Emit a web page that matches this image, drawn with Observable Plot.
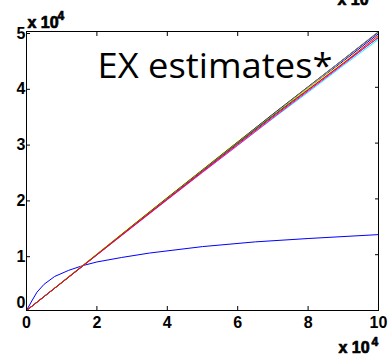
<!DOCTYPE html>
<html><head><meta charset="utf-8">
<script src="https://cdn.jsdelivr.net/npm/d3@7"></script>
<script src="https://cdn.jsdelivr.net/npm/@observablehq/plot@0.6"></script>
<style>body{margin:0;background:#fff}</style>
</head><body><div id="chart"></div>
<script>
const xs = [0, 10000, 20000, 30000, 40000, 50000, 60000, 70000, 80000, 90000, 100000];
const seriesNames = ["blue", "green", "cyan", "magenta", "yellow", "black", "gray", "red"];
const seriesColors = ["#0000ff", "#00a000", "#00c8c8", "#c800c8", "#c8c800", "#000000", "#808080", "#ff0000"];
const blueS   = [0, 5000, 10000, 15050, 20100, 25050, 30000, 34900, 39800, 44700, 49600];
const greenS  = [0, 5050, 10100, 15150, 20200, 25100, 30000, 34900, 39600, 44300, 48900];
const cyanS   = [0, 5000, 9950, 14950, 19900, 24800, 29600, 34400, 39100, 43900, 48600];
const magS    = [0, 4980, 9950, 14900, 19850, 24750, 29600, 34500, 39300, 44100, 49000];
const yelS    = [0, 5050, 10150, 15250, 20300, 25300, 30300, 35100, 39800, 44500, 49200];
const blackS  = [0, 5000, 10050, 15150, 20200, 25200, 30200, 35200, 40100, 45000, 49900];
const grayS   = [0, 5000, 10050, 15100, 20150, 25150, 30150, 35100, 40050, 45000, 50000];
const redS    = [0, 5000, 10000, 15000, 19950, 24900, 29800, 34700, 39500, 44300, 49300];
const seriesValues = [blueS, greenS, cyanS, magS, yelS, blackS, grayS, redS];

const curveX = [0, 1500, 3000, 5000, 8000, 12000, 16000, 20000, 27000, 35000, 50000, 65000, 80000, 100000];
const curveY = [0, 1700, 3300, 4700, 6100, 7200, 8050, 8700, 9500, 10300, 11450, 12300, 12900, 13600];

const xTicks = [0, 20000, 40000, 60000, 80000, 100000];
const yTicks = [0, 10000, 20000, 30000, 40000, 50000];
const titleText = "EX estimates*";

const lineData = [];
seriesNames.forEach((n, i) => xs.forEach((x, j) => lineData.push({series: n, x, y: seriesValues[i][j]})));
const curveData = curveX.map((x, i) => ({x, y: curveY[i]}));

const font = "Liberation Sans, Arial, sans-serif";
const fmt = d => String(d / 10000);
const lab = {fontWeight: "bold", fill: "#000", stroke: "#000", strokeWidth: 0.7, textAnchor: "start", lineAnchor: "bottom"};

const chart = Plot.plot({
  width: 389, height: 354,
  marginLeft: 26, marginRight: 11, marginTop: 31, marginBottom: 44,
  style: {fontFamily: font, background: "#fff", overflow: "visible"},
  x: {domain: [0, 100000]},
  y: {domain: [0, 50000]},
  color: {domain: seriesNames, range: seriesColors},
  marks: [
    Plot.line(curveData, {x: "x", y: "y", stroke: "#0000ff", strokeWidth: 1}),
    Plot.line(lineData, {x: "x", y: "y", z: "series", stroke: "series", strokeWidth: 1}),
    Plot.frame({stroke: "#000", strokeWidth: 1}),
    Plot.axisX(xTicks, {anchor: "bottom", tickSize: -4, tickPadding: 10, tickFormat: fmt, fontSize: 16, fontWeight: "bold", fill: "#000", stroke: "#000", label: null}),
    Plot.axisX(xTicks.slice(1, -1), {anchor: "top", tickSize: -4, tickFormat: () => "", stroke: "#000", label: null}),
    Plot.axisY(yTicks.slice(1), {anchor: "left", tickSize: -4, tickPadding: 5, dy: 2, tickFormat: fmt, fontSize: 16, fontWeight: "bold", fill: "#000", stroke: "#000", label: null}),
    Plot.axisY([0], {anchor: "left", tickSize: 0, tickPadding: 1, dy: -8, tickFormat: fmt, fontSize: 16, fontWeight: "bold", fill: "#000", stroke: "#000", label: null}),
    Plot.axisY(yTicks.slice(1, -1), {anchor: "right", tickSize: -4, tickFormat: () => "", stroke: "#000", label: null}),
    Plot.text([titleText], {text: d => d, frameAnchor: "top-left", dx: 71, dy: 46, textAnchor: "start", lineAnchor: "bottom", fontSize: 34, fontFamily: "Open Sans, Lato, sans-serif", fill: "#000"}),
    Plot.text(["x 10"], {text: d => d, frameAnchor: "top-left", dx: 1, dy: -4, fontSize: 16, ...lab}),
    Plot.text(["4"], {text: d => d, frameAnchor: "top-left", dx: 31, dy: -12, fontSize: 12, ...lab}),
    Plot.text(["x 10"], {text: d => d, frameAnchor: "bottom-right", dx: -40, dy: 42, fontSize: 16, ...lab}),
    Plot.text(["4"], {text: d => d, frameAnchor: "bottom-right", dx: -7, dy: 35, fontSize: 12, ...lab}),
    Plot.text(["x 10"], {text: d => d, frameAnchor: "top-right", dx: -41, dy: -27, fontSize: 16, ...lab})
  ]
});
d3.select(chart).selectAll("text").filter(function() { return this.textContent === titleText; })
  .attr("textLength", 235).attr("lengthAdjust", "spacingAndGlyphs");
document.getElementById("chart").appendChild(chart);
</script></body></html>
